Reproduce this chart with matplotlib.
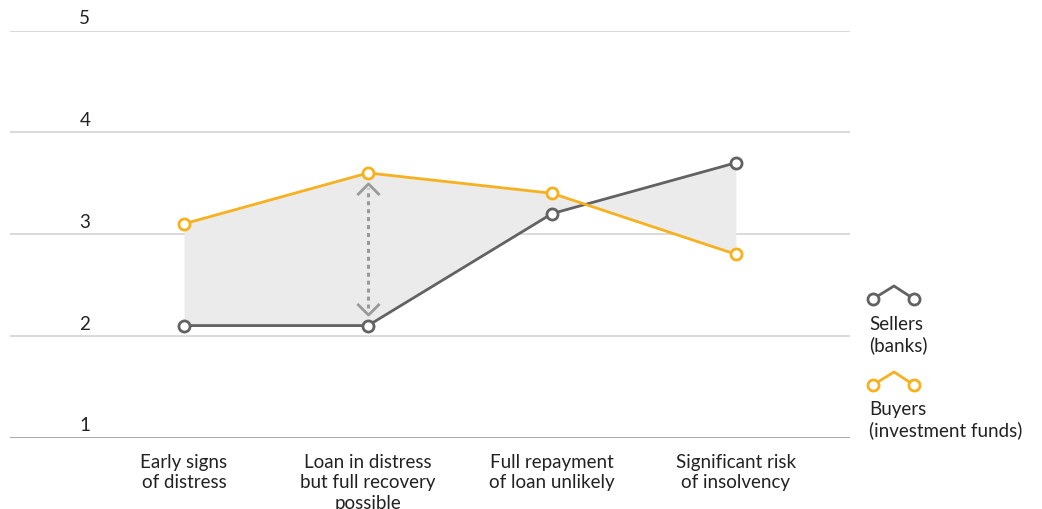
import numpy as np
import matplotlib.pyplot as plt
from matplotlib.path import Path
from matplotlib.lines import Line2D

plt.rcParams['font.family'] = ['Lato', 'DejaVu Sans']

stages = ["Early signs\nof distress", "Loan in distress\nbut full recovery\npossible",
          "Full repayment\nof loan unlikely", "Significant risk\nof insolvency"]
sellers = [2.1, 2.1, 3.2, 3.7]
buyers = [3.1, 3.6, 3.4, 2.8]
yticks = [1, 2, 3, 4, 5]

grey = "#626262"
orange = "#F7B11E"
txt = "#222222"

fig = plt.figure(figsize=(10.42, 5.10), dpi=100)
W, H = 1042, 510
ax = fig.add_axes([10 / W, 71.5 / H, 840 / W, 407 / H])

x = np.arange(len(stages))
ax.set_xlim(-0.946, 3.62)
ax.set_ylim(1, 5)

# gridlines with labels sitting on top of them
for t in yticks:
    ax.axhline(t, color="#999999" if t == 1 else "#d4d4d4", lw=1.2, zorder=0)
    ax.text(0.089, t + 0.04, str(t), transform=ax.get_yaxis_transform(),
            ha="center", va="bottom", fontsize=13.5, color=txt)

# gap between the two views
ax.fill_between(x, sellers, buyers, color="#ebebeb", lw=0, zorder=1)

ax.plot(x, sellers, color=grey, lw=2, marker="o", ms=8, mfc="white", mew=2, zorder=3)
ax.plot(x, buyers, color=orange, lw=2, marker="o", ms=8, mfc="white", mew=2, zorder=3)

# dotted double arrow showing the spread
chev_up = Path([(-1, -0.5), (0, 0.5), (1, -0.5)], [Path.MOVETO, Path.LINETO, Path.LINETO])
chev_dn = Path([(-1, 0.5), (0, -0.5), (1, 0.5)], [Path.MOVETO, Path.LINETO, Path.LINETO])
ax.plot([1, 1], [2.27, 3.45], color="#9a9a9a", lw=2.2, ls=(0, (1.3, 1.3)), zorder=2)
ax.plot([1], [3.44], marker=chev_up, ms=16, mec="#9a9a9a", mfc="none", mew=2, zorder=2)
ax.plot([1], [2.26], marker=chev_dn, ms=16, mec="#9a9a9a", mfc="none", mew=2, zorder=2)

for i, s in enumerate(stages):
    ax.text(i, 0.85, s, ha="center", va="top", fontsize=13.5, color=txt,
            linespacing=1.25)

for sp in ax.spines.values():
    sp.set_visible(False)
ax.set_xticks([])
ax.set_yticks([])

# legend glyphs drawn in pixel space
def glyph(yc, color):
    xs = [873, 894, 914]
    ys = [H - yc, H - yc + 13, H - yc]
    fig.add_artist(Line2D(xs, ys, transform=None, color=color, lw=2))
    fig.add_artist(Line2D([xs[0], xs[2]], [ys[0], ys[2]], transform=None, ls="none",
                          marker="o", ms=8, mfc="white", mec=color, mew=2))

glyph(300, grey)
glyph(386, orange)
fig.text(869 / W, 1 - 316 / H, "Sellers\n(banks)", ha="left", va="top",
         fontsize=13.5, color=txt, linespacing=1.25)
fig.text(869 / W, 1 - 401 / H, "Buyers\n(investment funds)", ha="left", va="top",
         fontsize=13.5, color=txt, linespacing=1.25)

fig.savefig("out.png", dpi=100)
